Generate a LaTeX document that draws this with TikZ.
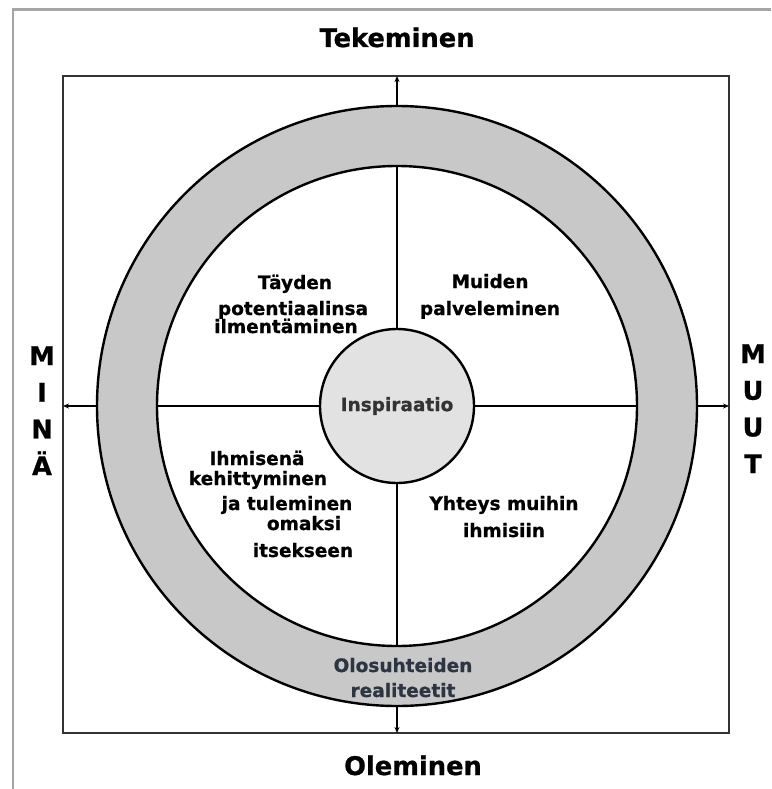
\documentclass[tikz,border=0pt]{standalone}
\usepackage{fontspec}
\setmainfont{DejaVu Sans}[BoldFeatures={FakeBold=0.8}]
\usetikzlibrary{arrows.meta,positioning,calc}
\definecolor{ringgray}{RGB}{200,200,200}
\definecolor{hubgray}{RGB}{226,226,226}
\definecolor{framegray}{RGB}{165,165,165}
\definecolor{slate}{RGB}{45,52,66}
\def\RingOuter{300pt}
\def\RingInner{240pt}
\def\HubSize{154pt}
\def\LetterStep{36.7}
\tikzset{
	quad/.style={inner sep=0pt,anchor=base,font=\fontsize{18.5}{20}\selectfont\bfseries},
	axislabel/.style={inner sep=0pt,anchor=base,font=\fontsize{25.7}{28}\selectfont\bfseries},
	axisline/.style={line width=1.8pt,-{Stealth[length=6pt,width=5pt]}},
	ringline/.style={line width=2.4pt},
}

\begin{document}
\begin{tikzpicture}[x=1pt,y=-1pt]
	\useasboundingbox (0,0) rectangle (771,789);
	% outer frame, cut off on the right and at the bottom
	\draw[framegray,line width=2.5pt] (13,789) -- (13,9.5) -- (771,9.5);
	% 
	\coordinate (nw) at (63,76);
	\coordinate (se) at (729,733);
	\coordinate (c) at (397,406);
	\coordinate (top) at (c |- nw);
	\coordinate (bot) at (c |- se);
	\coordinate (lft) at (nw |- c);
	\coordinate (rgt) at (se |- c);
	% 
	\draw[line width=2pt,black!80] (nw) rectangle (se);
	\draw[axisline] (c) -- (top);
	\draw[axisline] (c) -- (bot);
	\draw[axisline] (c) -- (lft);
	\draw[axisline] (c) -- (rgt);
	% ring
	\fill[ringgray,even odd rule] (c) circle[radius=\RingOuter] (c) circle[radius=\RingInner];
	\draw[ringline] (c) circle[radius=\RingOuter];
	\draw[ringline] (c) circle[radius=\RingInner];
	\node[circle,draw,ringline,fill=hubgray,minimum size=\HubSize,inner sep=0pt,
		font=\fontsize{18.5}{20}\selectfont\bfseries,text=black!80] (hub) at (c) {Inspiraatio};
	% 
	\node[axislabel] (tek) at (397,47) {Tekeminen};
	\node[axislabel] (ole) at (413,775) {Oleminen};
	\foreach \ch [count=\i] in {M,I,N,Ä}
		\node[axislabel] (mina\i) at (42,{365+\LetterStep*(\i-1)}) {\ch};
	\foreach \ch [count=\i] in {M,U,U,T}
		\node[axislabel] (muut\i) at (753,{363+\LetterStep*(\i-1)}) {\ch};
	% 
	\node[quad] (tay) at (295,289) {Täyden};
	\node[quad] (pot) at (293,315) {potentiaalinsa};
	\node[quad] (ilm) at (286,333) {ilmentäminen};
	% 
	\node[quad] (mui) at (490,288) {Muiden};
	\node[quad] (pal) at (490,315) {palveleminen};
	% 
	\node[quad] (ihm) at (257,465) {Ihmisenä};
	\node[quad] (keh) at (258,485) {kehittyminen};
	\node[quad] (jat) at (287,510) {ja tuleminen};
	\node[quad] (oma) at (304,530) {omaksi};
	\node[quad] (its) at (303,557) {itsekseen};
	% 
	\node[quad] (yht) at (504,510) {Yhteys muihin};
	\node[quad] (ihs) at (504,537) {ihmisiin};
	% 
	\node[quad,text=slate] (olo) at (403,672) {Olosuhteiden};
	\node[quad,text=slate] (rea) at (403,697) {realiteetit};
\end{tikzpicture}
\end{document}
